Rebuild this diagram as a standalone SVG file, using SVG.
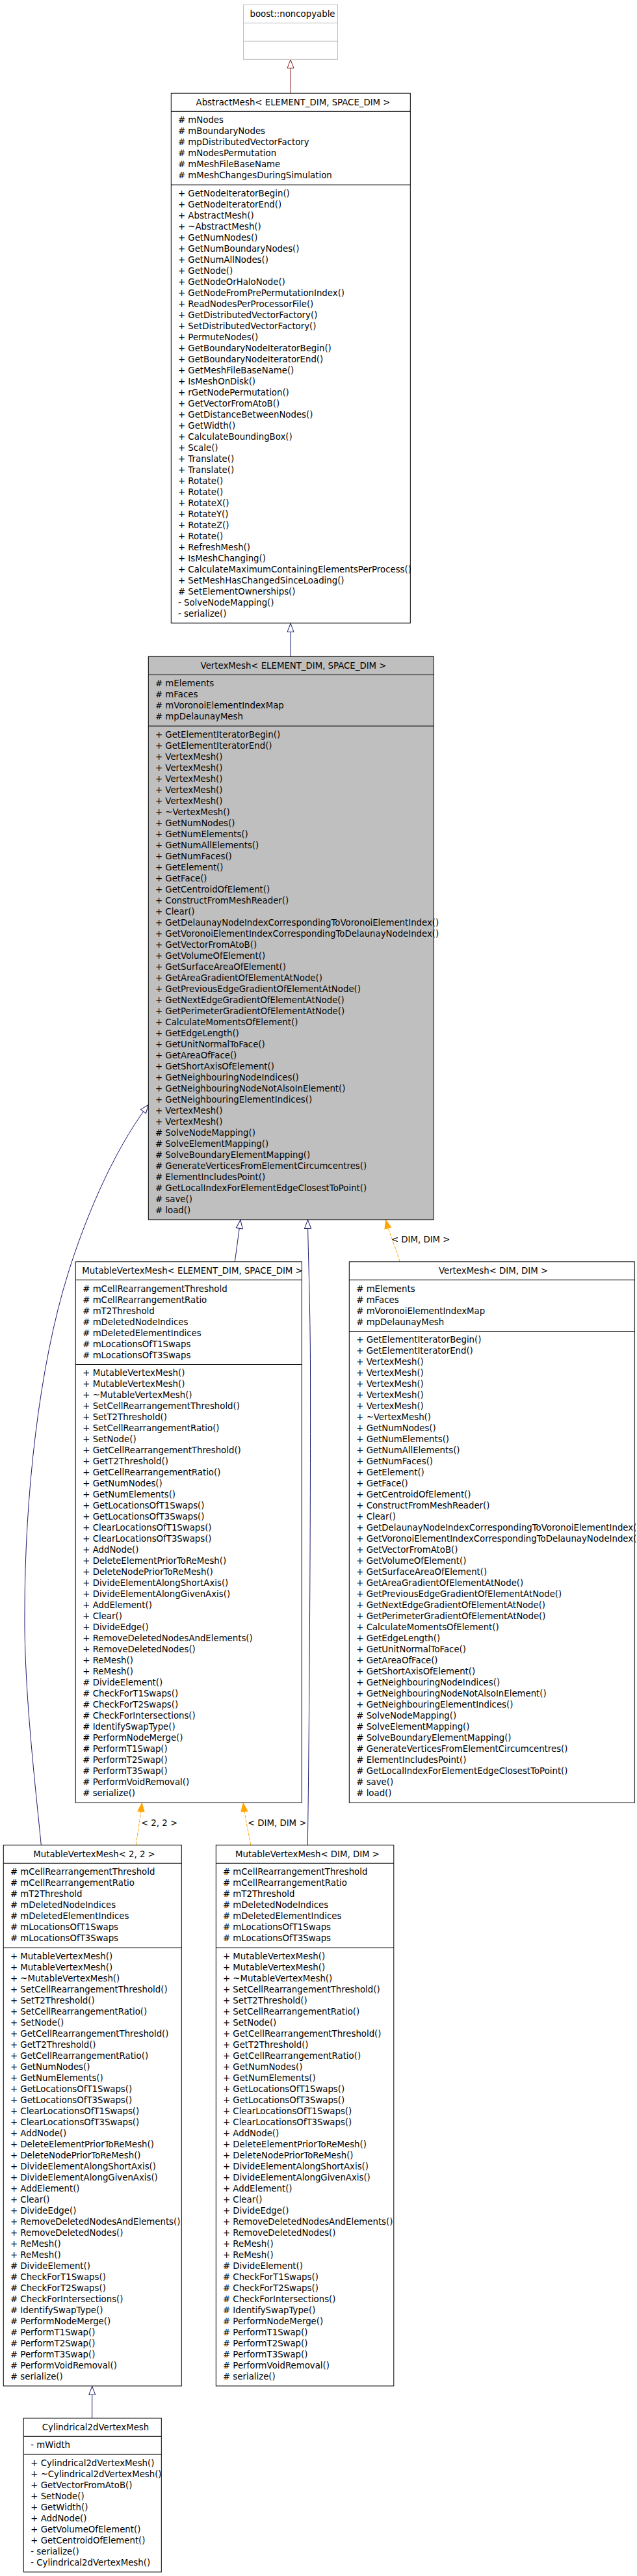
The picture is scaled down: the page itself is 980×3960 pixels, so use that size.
<svg xmlns="http://www.w3.org/2000/svg" width="980" height="3960" viewBox="0 0 980 3960">
<style>
text{font-family:"DejaVu Sans","Liberation Sans",sans-serif;font-size:13.3px;fill:#000}
.ttl{text-anchor:middle}
.box{fill:#fff;stroke:#000;stroke-width:1}
.cur{fill:#bfbfbf;stroke:#000;stroke-width:1}
.ext{fill:#fff;stroke:#bfbfbf;stroke-width:1}
.sep{stroke:#000;stroke-width:1}
.sepg{stroke:#bfbfbf;stroke-width:1}
.pub{fill:none;stroke:#191970;stroke-width:1;marker-end:url(#inhB)}
.prv{fill:none;stroke:#8b1a1a;stroke-width:1;marker-end:url(#inhR)}
.tpl{fill:none;stroke:#ffa500;stroke-width:1;stroke-dasharray:5,2;marker-end:url(#tplO)}
</style>
<defs>
<marker id="inhB" viewBox="-1 -1 15 12" refX="13" refY="5" markerWidth="15" markerHeight="12" orient="auto" markerUnits="userSpaceOnUse"><path d="M0,0 L13,5 L0,10 Z" fill="#fff" stroke="#191970" stroke-width="1"/></marker>
<marker id="inhR" viewBox="-1 -1 15 12" refX="13" refY="5" markerWidth="15" markerHeight="12" orient="auto" markerUnits="userSpaceOnUse"><path d="M0,0 L13,5 L0,10 Z" fill="#fff" stroke="#8b1a1a" stroke-width="1"/></marker>
<marker id="tplO" viewBox="-1 -1 15 12" refX="13" refY="5" markerWidth="15" markerHeight="12" orient="auto" markerUnits="userSpaceOnUse"><path d="M0,0 L13,5 L0,10 Z" fill="#ffa500" stroke="#ffa500" stroke-width="1"/></marker>
</defs>
<rect width="980" height="3960" fill="#fff"/>

<g id="edges">
<path class="prv" d="M447,143.3 L447,91.8"/>
<path class="pub" d="M447,1009.3 L447,958.4"/>
<path class="pub" d="M361.3,1939.7 L370,1875.4"/>
<path class="pub" d="M473.3,2836.3 C476,2650 478,2300 477.5,2100 C477,1990 474,1930 473.5,1875.4"/>
<path class="pub" d="M63.3,2836.3 C55,2750 37,2600 38,2480 C38,2300 60,2100 105,1956.7 C127,1886 170,1775 228.3,1698.3"/>
<path class="pub" d="M141.7,3717.3 L141.7,3668.4"/>
<path class="tpl" d="M615,1939.7 C610,1920 600,1900 593.5,1875.4"/>
<text x="602" y="1909.5">&lt; DIM, DIM &gt;</text>
<path class="tpl" d="M209.3,2836.3 C212,2815 216,2795 218.3,2771.8"/>
<text x="217" y="2806.5">&lt; 2, 2 &gt;</text>
<path class="tpl" d="M385.7,2836.3 C382,2815 377,2795 374.3,2771.8"/>
<text x="381" y="2806.5">&lt; DIM, DIM &gt;</text>
</g>

<g id="boost_noncopyable">
<rect class="ext" x="374.5" y="7.3" width="145" height="84"/>
<line class="sepg" x1="374.5" y1="35.3" x2="519.5" y2="35.3"/>
<line class="sepg" x1="374.5" y1="63.3" x2="519.5" y2="63.3"/>
<text class="ttl" x="450" y="25.8">boost::noncopyable</text>
</g>

<g id="AbstractMesh">
<rect class="box" x="263.3" y="143.3" width="368" height="814.6"/>
<line class="sep" x1="263.3" y1="171.3" x2="631.3" y2="171.3"/>
<line class="sep" x1="263.3" y1="284.1" x2="631.3" y2="284.1"/>
<text class="ttl" x="451" y="161.8">AbstractMesh&lt; ELEMENT_DIM, SPACE_DIM &gt;</text>
<text><tspan x="274" y="189.2"># mNodes</tspan><tspan x="274" dy="17"># mBoundaryNodes</tspan><tspan x="274" dy="17"># mpDistributedVectorFactory</tspan><tspan x="274" dy="17"># mNodesPermutation</tspan><tspan x="274" dy="17"># mMeshFileBaseName</tspan><tspan x="274" dy="17"># mMeshChangesDuringSimulation</tspan></text>
<text><tspan x="274" y="302">+ GetNodeIteratorBegin()</tspan><tspan x="274" dy="17">+ GetNodeIteratorEnd()</tspan><tspan x="274" dy="17">+ AbstractMesh()</tspan><tspan x="274" dy="17">+ ~AbstractMesh()</tspan><tspan x="274" dy="17">+ GetNumNodes()</tspan><tspan x="274" dy="17">+ GetNumBoundaryNodes()</tspan><tspan x="274" dy="17">+ GetNumAllNodes()</tspan><tspan x="274" dy="17">+ GetNode()</tspan><tspan x="274" dy="17">+ GetNodeOrHaloNode()</tspan><tspan x="274" dy="17">+ GetNodeFromPrePermutationIndex()</tspan><tspan x="274" dy="17">+ ReadNodesPerProcessorFile()</tspan><tspan x="274" dy="17">+ GetDistributedVectorFactory()</tspan><tspan x="274" dy="17">+ SetDistributedVectorFactory()</tspan><tspan x="274" dy="17">+ PermuteNodes()</tspan><tspan x="274" dy="17">+ GetBoundaryNodeIteratorBegin()</tspan><tspan x="274" dy="17">+ GetBoundaryNodeIteratorEnd()</tspan><tspan x="274" dy="17">+ GetMeshFileBaseName()</tspan><tspan x="274" dy="17">+ IsMeshOnDisk()</tspan><tspan x="274" dy="17">+ rGetNodePermutation()</tspan><tspan x="274" dy="17">+ GetVectorFromAtoB()</tspan><tspan x="274" dy="17">+ GetDistanceBetweenNodes()</tspan><tspan x="274" dy="17">+ GetWidth()</tspan><tspan x="274" dy="17">+ CalculateBoundingBox()</tspan><tspan x="274" dy="17">+ Scale()</tspan><tspan x="274" dy="17">+ Translate()</tspan><tspan x="274" dy="17">+ Translate()</tspan><tspan x="274" dy="17">+ Rotate()</tspan><tspan x="274" dy="17">+ Rotate()</tspan><tspan x="274" dy="17">+ RotateX()</tspan><tspan x="274" dy="17">+ RotateY()</tspan><tspan x="274" dy="17">+ RotateZ()</tspan><tspan x="274" dy="17">+ Rotate()</tspan><tspan x="274" dy="17">+ RefreshMesh()</tspan><tspan x="274" dy="17">+ IsMeshChanging()</tspan><tspan x="274" dy="17">+ CalculateMaximumContainingElementsPerProcess()</tspan><tspan x="274" dy="17">+ SetMeshHasChangedSinceLoading()</tspan><tspan x="274" dy="17"># SetElementOwnerships()</tspan><tspan x="274" dy="17">- SolveNodeMapping()</tspan><tspan x="274" dy="17">- serialize()</tspan></text>
</g>

<g id="VertexMesh">
<rect class="cur" x="228.3" y="1009.3" width="439" height="865.6"/>
<line class="sep" x1="228.3" y1="1037.3" x2="667.3" y2="1037.3"/>
<line class="sep" x1="228.3" y1="1116.1" x2="667.3" y2="1116.1"/>
<text class="ttl" x="451.5" y="1027.8">VertexMesh&lt; ELEMENT_DIM, SPACE_DIM &gt;</text>
<text><tspan x="239" y="1055.2"># mElements</tspan><tspan x="239" dy="17"># mFaces</tspan><tspan x="239" dy="17"># mVoronoiElementIndexMap</tspan><tspan x="239" dy="17"># mpDelaunayMesh</tspan></text>
<text><tspan x="239" y="1134">+ GetElementIteratorBegin()</tspan><tspan x="239" dy="17">+ GetElementIteratorEnd()</tspan><tspan x="239" dy="17">+ VertexMesh()</tspan><tspan x="239" dy="17">+ VertexMesh()</tspan><tspan x="239" dy="17">+ VertexMesh()</tspan><tspan x="239" dy="17">+ VertexMesh()</tspan><tspan x="239" dy="17">+ VertexMesh()</tspan><tspan x="239" dy="17">+ ~VertexMesh()</tspan><tspan x="239" dy="17">+ GetNumNodes()</tspan><tspan x="239" dy="17">+ GetNumElements()</tspan><tspan x="239" dy="17">+ GetNumAllElements()</tspan><tspan x="239" dy="17">+ GetNumFaces()</tspan><tspan x="239" dy="17">+ GetElement()</tspan><tspan x="239" dy="17">+ GetFace()</tspan><tspan x="239" dy="17">+ GetCentroidOfElement()</tspan><tspan x="239" dy="17">+ ConstructFromMeshReader()</tspan><tspan x="239" dy="17">+ Clear()</tspan><tspan x="239" dy="17">+ GetDelaunayNodeIndexCorrespondingToVoronoiElementIndex()</tspan><tspan x="239" dy="17">+ GetVoronoiElementIndexCorrespondingToDelaunayNodeIndex()</tspan><tspan x="239" dy="17">+ GetVectorFromAtoB()</tspan><tspan x="239" dy="17">+ GetVolumeOfElement()</tspan><tspan x="239" dy="17">+ GetSurfaceAreaOfElement()</tspan><tspan x="239" dy="17">+ GetAreaGradientOfElementAtNode()</tspan><tspan x="239" dy="17">+ GetPreviousEdgeGradientOfElementAtNode()</tspan><tspan x="239" dy="17">+ GetNextEdgeGradientOfElementAtNode()</tspan><tspan x="239" dy="17">+ GetPerimeterGradientOfElementAtNode()</tspan><tspan x="239" dy="17">+ CalculateMomentsOfElement()</tspan><tspan x="239" dy="17">+ GetEdgeLength()</tspan><tspan x="239" dy="17">+ GetUnitNormalToFace()</tspan><tspan x="239" dy="17">+ GetAreaOfFace()</tspan><tspan x="239" dy="17">+ GetShortAxisOfElement()</tspan><tspan x="239" dy="17">+ GetNeighbouringNodeIndices()</tspan><tspan x="239" dy="17">+ GetNeighbouringNodeNotAlsoInElement()</tspan><tspan x="239" dy="17">+ GetNeighbouringElementIndices()</tspan><tspan x="239" dy="17">+ VertexMesh()</tspan><tspan x="239" dy="17">+ VertexMesh()</tspan><tspan x="239" dy="17"># SolveNodeMapping()</tspan><tspan x="239" dy="17"># SolveElementMapping()</tspan><tspan x="239" dy="17"># SolveBoundaryElementMapping()</tspan><tspan x="239" dy="17"># GenerateVerticesFromElementCircumcentres()</tspan><tspan x="239" dy="17"># ElementIncludesPoint()</tspan><tspan x="239" dy="17"># GetLocalIndexForElementEdgeClosestToPoint()</tspan><tspan x="239" dy="17"># save()</tspan><tspan x="239" dy="17"># load()</tspan></text>
</g>

<g id="MutableVertexMesh_ES">
<rect class="box" x="116.3" y="1939.7" width="348" height="831.6"/>
<line class="sep" x1="116.3" y1="1967.7" x2="464.3" y2="1967.7"/>
<line class="sep" x1="116.3" y1="2097.5" x2="464.3" y2="2097.5"/>
<text class="ttl" x="296" y="1958.2">MutableVertexMesh&lt; ELEMENT_DIM, SPACE_DIM &gt;</text>
<text><tspan x="127.3" y="1985.6"># mCellRearrangementThreshold</tspan><tspan x="127.3" dy="17"># mCellRearrangementRatio</tspan><tspan x="127.3" dy="17"># mT2Threshold</tspan><tspan x="127.3" dy="17"># mDeletedNodeIndices</tspan><tspan x="127.3" dy="17"># mDeletedElementIndices</tspan><tspan x="127.3" dy="17"># mLocationsOfT1Swaps</tspan><tspan x="127.3" dy="17"># mLocationsOfT3Swaps</tspan></text>
<text><tspan x="127.3" y="2115.4">+ MutableVertexMesh()</tspan><tspan x="127.3" dy="17">+ MutableVertexMesh()</tspan><tspan x="127.3" dy="17">+ ~MutableVertexMesh()</tspan><tspan x="127.3" dy="17">+ SetCellRearrangementThreshold()</tspan><tspan x="127.3" dy="17">+ SetT2Threshold()</tspan><tspan x="127.3" dy="17">+ SetCellRearrangementRatio()</tspan><tspan x="127.3" dy="17">+ SetNode()</tspan><tspan x="127.3" dy="17">+ GetCellRearrangementThreshold()</tspan><tspan x="127.3" dy="17">+ GetT2Threshold()</tspan><tspan x="127.3" dy="17">+ GetCellRearrangementRatio()</tspan><tspan x="127.3" dy="17">+ GetNumNodes()</tspan><tspan x="127.3" dy="17">+ GetNumElements()</tspan><tspan x="127.3" dy="17">+ GetLocationsOfT1Swaps()</tspan><tspan x="127.3" dy="17">+ GetLocationsOfT3Swaps()</tspan><tspan x="127.3" dy="17">+ ClearLocationsOfT1Swaps()</tspan><tspan x="127.3" dy="17">+ ClearLocationsOfT3Swaps()</tspan><tspan x="127.3" dy="17">+ AddNode()</tspan><tspan x="127.3" dy="17">+ DeleteElementPriorToReMesh()</tspan><tspan x="127.3" dy="17">+ DeleteNodePriorToReMesh()</tspan><tspan x="127.3" dy="17">+ DivideElementAlongShortAxis()</tspan><tspan x="127.3" dy="17">+ DivideElementAlongGivenAxis()</tspan><tspan x="127.3" dy="17">+ AddElement()</tspan><tspan x="127.3" dy="17">+ Clear()</tspan><tspan x="127.3" dy="17">+ DivideEdge()</tspan><tspan x="127.3" dy="17">+ RemoveDeletedNodesAndElements()</tspan><tspan x="127.3" dy="17">+ RemoveDeletedNodes()</tspan><tspan x="127.3" dy="17">+ ReMesh()</tspan><tspan x="127.3" dy="17">+ ReMesh()</tspan><tspan x="127.3" dy="17"># DivideElement()</tspan><tspan x="127.3" dy="17"># CheckForT1Swaps()</tspan><tspan x="127.3" dy="17"># CheckForT2Swaps()</tspan><tspan x="127.3" dy="17"># CheckForIntersections()</tspan><tspan x="127.3" dy="17"># IdentifySwapType()</tspan><tspan x="127.3" dy="17"># PerformNodeMerge()</tspan><tspan x="127.3" dy="17"># PerformT1Swap()</tspan><tspan x="127.3" dy="17"># PerformT2Swap()</tspan><tspan x="127.3" dy="17"># PerformT3Swap()</tspan><tspan x="127.3" dy="17"># PerformVoidRemoval()</tspan><tspan x="127.3" dy="17"># serialize()</tspan></text>
</g>

<g id="VertexMesh_DIM_DIM">
<rect class="box" x="537.3" y="1939.7" width="439" height="831.6"/>
<line class="sep" x1="537.3" y1="1967.7" x2="976.3" y2="1967.7"/>
<line class="sep" x1="537.3" y1="2046.5" x2="976.3" y2="2046.5"/>
<text class="ttl" x="759" y="1958.2">VertexMesh&lt; DIM, DIM &gt;</text>
<text><tspan x="548.3" y="1985.6"># mElements</tspan><tspan x="548.3" dy="17"># mFaces</tspan><tspan x="548.3" dy="17"># mVoronoiElementIndexMap</tspan><tspan x="548.3" dy="17"># mpDelaunayMesh</tspan></text>
<text><tspan x="548.3" y="2064.4">+ GetElementIteratorBegin()</tspan><tspan x="548.3" dy="17">+ GetElementIteratorEnd()</tspan><tspan x="548.3" dy="17">+ VertexMesh()</tspan><tspan x="548.3" dy="17">+ VertexMesh()</tspan><tspan x="548.3" dy="17">+ VertexMesh()</tspan><tspan x="548.3" dy="17">+ VertexMesh()</tspan><tspan x="548.3" dy="17">+ VertexMesh()</tspan><tspan x="548.3" dy="17">+ ~VertexMesh()</tspan><tspan x="548.3" dy="17">+ GetNumNodes()</tspan><tspan x="548.3" dy="17">+ GetNumElements()</tspan><tspan x="548.3" dy="17">+ GetNumAllElements()</tspan><tspan x="548.3" dy="17">+ GetNumFaces()</tspan><tspan x="548.3" dy="17">+ GetElement()</tspan><tspan x="548.3" dy="17">+ GetFace()</tspan><tspan x="548.3" dy="17">+ GetCentroidOfElement()</tspan><tspan x="548.3" dy="17">+ ConstructFromMeshReader()</tspan><tspan x="548.3" dy="17">+ Clear()</tspan><tspan x="548.3" dy="17">+ GetDelaunayNodeIndexCorrespondingToVoronoiElementIndex()</tspan><tspan x="548.3" dy="17">+ GetVoronoiElementIndexCorrespondingToDelaunayNodeIndex()</tspan><tspan x="548.3" dy="17">+ GetVectorFromAtoB()</tspan><tspan x="548.3" dy="17">+ GetVolumeOfElement()</tspan><tspan x="548.3" dy="17">+ GetSurfaceAreaOfElement()</tspan><tspan x="548.3" dy="17">+ GetAreaGradientOfElementAtNode()</tspan><tspan x="548.3" dy="17">+ GetPreviousEdgeGradientOfElementAtNode()</tspan><tspan x="548.3" dy="17">+ GetNextEdgeGradientOfElementAtNode()</tspan><tspan x="548.3" dy="17">+ GetPerimeterGradientOfElementAtNode()</tspan><tspan x="548.3" dy="17">+ CalculateMomentsOfElement()</tspan><tspan x="548.3" dy="17">+ GetEdgeLength()</tspan><tspan x="548.3" dy="17">+ GetUnitNormalToFace()</tspan><tspan x="548.3" dy="17">+ GetAreaOfFace()</tspan><tspan x="548.3" dy="17">+ GetShortAxisOfElement()</tspan><tspan x="548.3" dy="17">+ GetNeighbouringNodeIndices()</tspan><tspan x="548.3" dy="17">+ GetNeighbouringNodeNotAlsoInElement()</tspan><tspan x="548.3" dy="17">+ GetNeighbouringElementIndices()</tspan><tspan x="548.3" dy="17"># SolveNodeMapping()</tspan><tspan x="548.3" dy="17"># SolveElementMapping()</tspan><tspan x="548.3" dy="17"># SolveBoundaryElementMapping()</tspan><tspan x="548.3" dy="17"># GenerateVerticesFromElementCircumcentres()</tspan><tspan x="548.3" dy="17"># ElementIncludesPoint()</tspan><tspan x="548.3" dy="17"># GetLocalIndexForElementEdgeClosestToPoint()</tspan><tspan x="548.3" dy="17"># save()</tspan><tspan x="548.3" dy="17"># load()</tspan></text>
</g>

<g id="MutableVertexMesh_2_2">
<rect class="box" x="5.3" y="2836.3" width="274" height="831.6"/>
<line class="sep" x1="5.3" y1="2864.3" x2="279.3" y2="2864.3"/>
<line class="sep" x1="5.3" y1="2994.1" x2="279.3" y2="2994.1"/>
<text class="ttl" x="145" y="2854.8">MutableVertexMesh&lt; 2, 2 &gt;</text>
<text><tspan x="16" y="2882.2"># mCellRearrangementThreshold</tspan><tspan x="16" dy="17"># mCellRearrangementRatio</tspan><tspan x="16" dy="17"># mT2Threshold</tspan><tspan x="16" dy="17"># mDeletedNodeIndices</tspan><tspan x="16" dy="17"># mDeletedElementIndices</tspan><tspan x="16" dy="17"># mLocationsOfT1Swaps</tspan><tspan x="16" dy="17"># mLocationsOfT3Swaps</tspan></text>
<text><tspan x="16" y="3012">+ MutableVertexMesh()</tspan><tspan x="16" dy="17">+ MutableVertexMesh()</tspan><tspan x="16" dy="17">+ ~MutableVertexMesh()</tspan><tspan x="16" dy="17">+ SetCellRearrangementThreshold()</tspan><tspan x="16" dy="17">+ SetT2Threshold()</tspan><tspan x="16" dy="17">+ SetCellRearrangementRatio()</tspan><tspan x="16" dy="17">+ SetNode()</tspan><tspan x="16" dy="17">+ GetCellRearrangementThreshold()</tspan><tspan x="16" dy="17">+ GetT2Threshold()</tspan><tspan x="16" dy="17">+ GetCellRearrangementRatio()</tspan><tspan x="16" dy="17">+ GetNumNodes()</tspan><tspan x="16" dy="17">+ GetNumElements()</tspan><tspan x="16" dy="17">+ GetLocationsOfT1Swaps()</tspan><tspan x="16" dy="17">+ GetLocationsOfT3Swaps()</tspan><tspan x="16" dy="17">+ ClearLocationsOfT1Swaps()</tspan><tspan x="16" dy="17">+ ClearLocationsOfT3Swaps()</tspan><tspan x="16" dy="17">+ AddNode()</tspan><tspan x="16" dy="17">+ DeleteElementPriorToReMesh()</tspan><tspan x="16" dy="17">+ DeleteNodePriorToReMesh()</tspan><tspan x="16" dy="17">+ DivideElementAlongShortAxis()</tspan><tspan x="16" dy="17">+ DivideElementAlongGivenAxis()</tspan><tspan x="16" dy="17">+ AddElement()</tspan><tspan x="16" dy="17">+ Clear()</tspan><tspan x="16" dy="17">+ DivideEdge()</tspan><tspan x="16" dy="17">+ RemoveDeletedNodesAndElements()</tspan><tspan x="16" dy="17">+ RemoveDeletedNodes()</tspan><tspan x="16" dy="17">+ ReMesh()</tspan><tspan x="16" dy="17">+ ReMesh()</tspan><tspan x="16" dy="17"># DivideElement()</tspan><tspan x="16" dy="17"># CheckForT1Swaps()</tspan><tspan x="16" dy="17"># CheckForT2Swaps()</tspan><tspan x="16" dy="17"># CheckForIntersections()</tspan><tspan x="16" dy="17"># IdentifySwapType()</tspan><tspan x="16" dy="17"># PerformNodeMerge()</tspan><tspan x="16" dy="17"># PerformT1Swap()</tspan><tspan x="16" dy="17"># PerformT2Swap()</tspan><tspan x="16" dy="17"># PerformT3Swap()</tspan><tspan x="16" dy="17"># PerformVoidRemoval()</tspan><tspan x="16" dy="17"># serialize()</tspan></text>
</g>

<g id="MutableVertexMesh_DIM_DIM">
<rect class="box" x="332.3" y="2836.3" width="273.5" height="831.6"/>
<line class="sep" x1="332.3" y1="2864.3" x2="605.8" y2="2864.3"/>
<line class="sep" x1="332.3" y1="2994.1" x2="605.8" y2="2994.1"/>
<text class="ttl" x="473" y="2854.8">MutableVertexMesh&lt; DIM, DIM &gt;</text>
<text><tspan x="343" y="2882.2"># mCellRearrangementThreshold</tspan><tspan x="343" dy="17"># mCellRearrangementRatio</tspan><tspan x="343" dy="17"># mT2Threshold</tspan><tspan x="343" dy="17"># mDeletedNodeIndices</tspan><tspan x="343" dy="17"># mDeletedElementIndices</tspan><tspan x="343" dy="17"># mLocationsOfT1Swaps</tspan><tspan x="343" dy="17"># mLocationsOfT3Swaps</tspan></text>
<text><tspan x="343" y="3012">+ MutableVertexMesh()</tspan><tspan x="343" dy="17">+ MutableVertexMesh()</tspan><tspan x="343" dy="17">+ ~MutableVertexMesh()</tspan><tspan x="343" dy="17">+ SetCellRearrangementThreshold()</tspan><tspan x="343" dy="17">+ SetT2Threshold()</tspan><tspan x="343" dy="17">+ SetCellRearrangementRatio()</tspan><tspan x="343" dy="17">+ SetNode()</tspan><tspan x="343" dy="17">+ GetCellRearrangementThreshold()</tspan><tspan x="343" dy="17">+ GetT2Threshold()</tspan><tspan x="343" dy="17">+ GetCellRearrangementRatio()</tspan><tspan x="343" dy="17">+ GetNumNodes()</tspan><tspan x="343" dy="17">+ GetNumElements()</tspan><tspan x="343" dy="17">+ GetLocationsOfT1Swaps()</tspan><tspan x="343" dy="17">+ GetLocationsOfT3Swaps()</tspan><tspan x="343" dy="17">+ ClearLocationsOfT1Swaps()</tspan><tspan x="343" dy="17">+ ClearLocationsOfT3Swaps()</tspan><tspan x="343" dy="17">+ AddNode()</tspan><tspan x="343" dy="17">+ DeleteElementPriorToReMesh()</tspan><tspan x="343" dy="17">+ DeleteNodePriorToReMesh()</tspan><tspan x="343" dy="17">+ DivideElementAlongShortAxis()</tspan><tspan x="343" dy="17">+ DivideElementAlongGivenAxis()</tspan><tspan x="343" dy="17">+ AddElement()</tspan><tspan x="343" dy="17">+ Clear()</tspan><tspan x="343" dy="17">+ DivideEdge()</tspan><tspan x="343" dy="17">+ RemoveDeletedNodesAndElements()</tspan><tspan x="343" dy="17">+ RemoveDeletedNodes()</tspan><tspan x="343" dy="17">+ ReMesh()</tspan><tspan x="343" dy="17">+ ReMesh()</tspan><tspan x="343" dy="17"># DivideElement()</tspan><tspan x="343" dy="17"># CheckForT1Swaps()</tspan><tspan x="343" dy="17"># CheckForT2Swaps()</tspan><tspan x="343" dy="17"># CheckForIntersections()</tspan><tspan x="343" dy="17"># IdentifySwapType()</tspan><tspan x="343" dy="17"># PerformNodeMerge()</tspan><tspan x="343" dy="17"># PerformT1Swap()</tspan><tspan x="343" dy="17"># PerformT2Swap()</tspan><tspan x="343" dy="17"># PerformT3Swap()</tspan><tspan x="343" dy="17"># PerformVoidRemoval()</tspan><tspan x="343" dy="17"># serialize()</tspan></text>
</g>

<g id="Cylindrical2dVertexMesh">
<rect class="box" x="36.3" y="3717.3" width="212" height="236.6"/>
<line class="sep" x1="36.3" y1="3745.3" x2="248.3" y2="3745.3"/>
<line class="sep" x1="36.3" y1="3773.1" x2="248.3" y2="3773.1"/>
<text class="ttl" x="147" y="3735.8">Cylindrical2dVertexMesh</text>
<text><tspan x="47.3" y="3763.2">- mWidth</tspan></text>
<text><tspan x="47.3" y="3791">+ Cylindrical2dVertexMesh()</tspan><tspan x="47.3" dy="17">+ ~Cylindrical2dVertexMesh()</tspan><tspan x="47.3" dy="17">+ GetVectorFromAtoB()</tspan><tspan x="47.3" dy="17">+ SetNode()</tspan><tspan x="47.3" dy="17">+ GetWidth()</tspan><tspan x="47.3" dy="17">+ AddNode()</tspan><tspan x="47.3" dy="17">+ GetVolumeOfElement()</tspan><tspan x="47.3" dy="17">+ GetCentroidOfElement()</tspan><tspan x="47.3" dy="17">- serialize()</tspan><tspan x="47.3" dy="17">- Cylindrical2dVertexMesh()</tspan></text>
</g>
</svg>
